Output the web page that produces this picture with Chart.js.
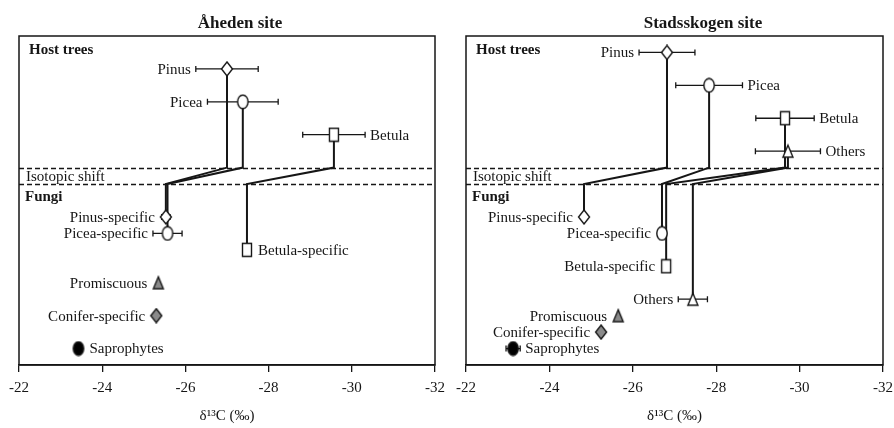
<!DOCTYPE html>
<html>
<head>
<meta charset="utf-8">
<script src="https://cdn.jsdelivr.net/npm/chart.js@4/dist/chart.umd.min.js"></script>
<style>
  body { margin: 0; background: #fff; }
  #wrap { position: relative; width: 894px; height: 428px; }
  canvas { position: absolute; top: 0; }
</style>
</head>
<body>
<div id="wrap">
  <canvas id="chart_aheden" width="447" height="428" style="left:0"></canvas>
  <canvas id="chart_stads" width="447" height="428" style="left:447px"></canvas>
</div>
<script>
// x ticks (per mil)
var xTicks = [-22, -24, -26, -28, -30, -32];

// Aheden site - host trees
var ahedenHosts = ['Pinus', 'Picea', 'Betula'];
var ahedenHostD13C = [-27.0, -27.38, -29.57];
var ahedenHostErr = [0.75, 0.85, 0.75];
var ahedenHostRow = [2, 4, 6];
// Aheden site - fungi
var ahedenFungi = ['Pinus-specific', 'Picea-specific', 'Betula-specific', 'Promiscuous', 'Conifer-specific', 'Saprophytes'];
var ahedenFungiD13C = [-25.53, -25.57, -27.48, -25.35, -25.3, -23.43];
var ahedenFungiErr = [0.1, 0.35, 0, 0, 0, 0];
var ahedenFungiRow = [11, 12, 13, 15, 17, 19];
var ahedenLinks = [[0, 0], [1, 1], [2, 2]];

// Stadsskogen site - host trees
var stadsHosts = ['Pinus', 'Picea', 'Betula', 'Others'];
var stadsHostD13C = [-26.82, -27.83, -29.65, -29.72];
var stadsHostErr = [0.67, 0.8, 0.7, 0.78];
var stadsHostRow = [1, 3, 5, 7];
// Stadsskogen site - fungi
var stadsFungi = ['Pinus-specific', 'Picea-specific', 'Betula-specific', 'Others', 'Promiscuous', 'Conifer-specific', 'Saprophytes'];
var stadsFungiD13C = [-24.83, -26.7, -26.8, -27.44, -25.65, -25.24, -23.13];
var stadsFungiErr = [0, 0, 0, 0.35, 0, 0, 0.17];
var stadsFungiRow = [11, 12, 14, 16, 17, 18, 19];
var stadsLinks = [[0, 0], [1, 1], [2, 2], [3, 3]];

// isotopic shift band (rows)
var shiftTop = 8, shiftBottom = 9;

var SERIF = '"Liberation Serif", "DejaVu Serif", serif';
var INK = '#161616';

// little marker images
function marker(shape, fill) {
    var c = document.createElement('canvas');
    c.width = 14; c.height = 16;
    var g = c.getContext('2d');
    g.lineWidth = 1.4;
    g.strokeStyle = INK;
    g.fillStyle = fill;
    g.beginPath();
    if (shape == 'diamond') {
        g.moveTo(7, 1); g.lineTo(12.5, 8); g.lineTo(7, 15); g.lineTo(1.5, 8); g.closePath();
    } else if (shape == 'ellipse') {
        g.ellipse(7, 8, 5.2, 6.8, 0, 0, Math.PI * 2);
    } else if (shape == 'rect') {
        g.rect(2.5, 1.5, 9, 13);
    } else if (shape == 'triangle') {
        g.moveTo(7, 2); g.lineTo(12, 14); g.lineTo(2, 14); g.closePath();
    }
    g.fill();
    g.stroke();
    return c;
}

var M = {
    diamond: marker('diamond', '#fff'),
    ellipse: marker('ellipse', '#fff'),
    rect: marker('rect', '#fff'),
    tri: marker('triangle', '#fff'),
    triGray: marker('triangle', '#8a8a8a'),
    diaGray: marker('diamond', '#8a8a8a'),
    dot: marker('ellipse', '#000')
};

function buildChart(id, site) {
    var ctx = document.getElementById(id).getContext('2d');

    var datasets = [];
    // host -> fungi links through the isotopic shift band
    site.links.forEach(function (l) {
        var h = site.hostX[l[0]], f = site.fungiX[l[1]];
        datasets.push({
            data: [
                { x: h, y: site.hostRow[l[0]] },
                { x: h, y: shiftTop },
                { x: f, y: shiftBottom },
                { x: f, y: site.fungiRow[l[1]] }
            ],
            showLine: true,
            borderColor: INK,
            borderWidth: 2,
            pointRadius: 0,
            order: 2
        });
    });
    datasets.push({
        data: site.hostX.map(function (v, i) { return { x: v, y: site.hostRow[i] }; }),
        pointStyle: site.hostMarkers,
        order: 0
    });
    datasets.push({
        data: site.fungiX.map(function (v, i) { return { x: v, y: site.fungiRow[i] }; }),
        pointStyle: site.fungiMarkers,
        order: 0
    });

    var decor = {
        id: 'decor',
        beforeDatasetsDraw: function (chart) {
            var c = chart.ctx, a = chart.chartArea, xs = chart.scales.x, ys = chart.scales.y;
            c.save();
            // isotopic shift band
            c.strokeStyle = INK;
            c.lineWidth = 1.4;
            c.setLineDash([5, 3]);
            [shiftTop, shiftBottom].forEach(function (r) {
                var y = Math.round(ys.getPixelForValue(r)) + 0.5;
                c.beginPath(); c.moveTo(a.left, y); c.lineTo(a.right, y); c.stroke();
            });
            c.setLineDash([]);
            c.fillStyle = INK;
            c.textBaseline = 'middle';
            c.font = '15px ' + SERIF;
            c.fillText('Isotopic shift', a.left + 7, ys.getPixelForValue(8.55));
            c.font = 'bold 15px ' + SERIF;
            c.fillText('Host trees', a.left + 10, ys.getPixelForValue(0.85));
            c.fillText('Fungi', a.left + 6, ys.getPixelForValue(9.8));

            // error bars
            c.lineWidth = 1.3;
            function bars(xv, er, rows) {
                xv.forEach(function (v, i) {
                    if (!er[i]) return;
                    var x1 = xs.getPixelForValue(v - er[i]), x2 = xs.getPixelForValue(v + er[i]);
                    var y = ys.getPixelForValue(rows[i]);
                    c.beginPath();
                    c.moveTo(x1, y); c.lineTo(x2, y);
                    c.moveTo(x1, y - 3); c.lineTo(x1, y + 3);
                    c.moveTo(x2, y - 3); c.lineTo(x2, y + 3);
                    c.stroke();
                });
            }
            bars(site.hostX, site.hostErr, site.hostRow);
            bars(site.fungiX, site.fungiErr, site.fungiRow);
            c.restore();
        },
        afterDatasetsDraw: function (chart) {
            var c = chart.ctx, a = chart.chartArea, xs = chart.scales.x, ys = chart.scales.y;
            c.save();
            c.fillStyle = INK;
            c.textBaseline = 'middle';
            c.font = '15px ' + SERIF;
            function labels(names, xv, er, rows, sides) {
                names.forEach(function (n, i) {
                    var x = xs.getPixelForValue(xv[i]);
                    var off = Math.max(Math.abs(xs.getPixelForValue(xv[i] + er[i]) - x), 6) + 5;
                    var y = ys.getPixelForValue(rows[i]) + 1;
                    if (sides[i] == 'L') {
                        c.textAlign = 'right';
                        c.fillText(n, x - off, y);
                    } else {
                        c.textAlign = 'left';
                        c.fillText(n, x + off, y);
                    }
                });
            }
            labels(site.hosts, site.hostX, site.hostErr, site.hostRow, site.hostSides);
            labels(site.fungi, site.fungiX, site.fungiErr, site.fungiRow, site.fungiSides);
            // frame
            c.strokeStyle = INK;
            c.lineWidth = 1.5;
            c.strokeRect(a.left, a.top, a.right - a.left, a.bottom - a.top);
            // panel title
            c.textAlign = 'center';
            c.font = 'bold 17px ' + SERIF;
            c.fillText(site.title, site.titleX, 24);
            c.restore();
        }
    };

    return new Chart(ctx, {
        type: 'scatter',
        data: { datasets: datasets },
        plugins: [decor],
        options: {
            responsive: false,
            animation: false,
            layout: { padding: { left: 19, right: site.padRight, top: 36, bottom: 0 } },
            plugins: { legend: { display: false }, tooltip: { enabled: false } },
            scales: {
                x: {
                    type: 'linear',
                    min: -32,
                    max: -22,
                    reverse: true,
                    afterFit: function (s) {
                        s.height = 63;
                        s.paddingLeft = 0;
                        s.paddingRight = 0;
                    },
                    afterBuildTicks: function (s) {
                        s.ticks = xTicks.map(function (v) { return { value: v }; });
                    },
                    grid: { drawOnChartArea: false, drawTicks: true, tickLength: 7, color: INK, lineWidth: 1.3 },
                    border: { display: true, color: INK, width: 1.5 },
                    ticks: { color: INK, padding: 7, font: { family: SERIF, size: 15 } },
                    title: {
                        display: true,
                        text: 'δ¹³C (‰)',
                        color: INK,
                        font: { family: SERIF, size: 15 },
                        padding: { top: 0, bottom: 3 }
                    }
                },
                y: { type: 'linear', min: 0, max: 20, reverse: true, display: false }
            }
        }
    });
}

buildChart('chart_aheden', {
    title: 'Åheden site', titleX: 240, padRight: 12,
    hosts: ahedenHosts, hostX: ahedenHostD13C, hostErr: ahedenHostErr, hostRow: ahedenHostRow,
    hostSides: ['L', 'L', 'R'],
    hostMarkers: [M.diamond, M.ellipse, M.rect],
    fungi: ahedenFungi, fungiX: ahedenFungiD13C, fungiErr: ahedenFungiErr, fungiRow: ahedenFungiRow,
    fungiSides: ['L', 'L', 'R', 'L', 'L', 'R'],
    fungiMarkers: [M.diamond, M.ellipse, M.rect, M.triGray, M.diaGray, M.dot],
    links: ahedenLinks
});

buildChart('chart_stads', {
    title: 'Stadsskogen site', titleX: 256, padRight: 11,
    hosts: stadsHosts, hostX: stadsHostD13C, hostErr: stadsHostErr, hostRow: stadsHostRow,
    hostSides: ['L', 'R', 'R', 'R'],
    hostMarkers: [M.diamond, M.ellipse, M.rect, M.tri],
    fungi: stadsFungi, fungiX: stadsFungiD13C, fungiErr: stadsFungiErr, fungiRow: stadsFungiRow,
    fungiSides: ['L', 'L', 'L', 'L', 'L', 'L', 'R'],
    fungiMarkers: [M.diamond, M.ellipse, M.rect, M.tri, M.triGray, M.diaGray, M.dot],
    links: stadsLinks
});
</script>
</body>
</html>
